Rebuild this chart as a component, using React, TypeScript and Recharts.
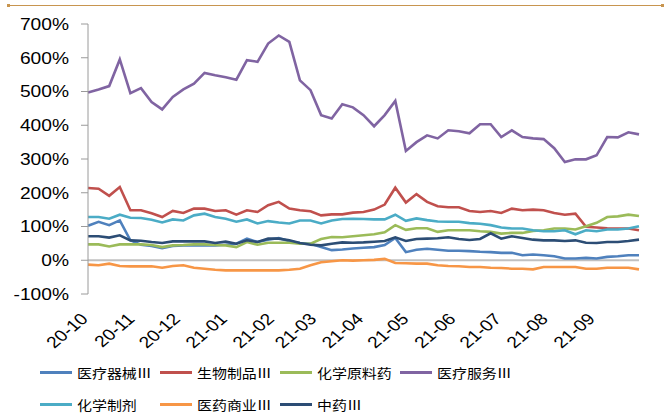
import { LineChart, Line, XAxis, YAxis, ReferenceLine } from "recharts"

// weekly observation dates
const weeks = [
  "2020-10-09", "2020-10-16", "2020-10-23", "2020-10-30", "2020-11-06", "2020-11-13", "2020-11-20", "2020-11-27",
  "2020-12-04", "2020-12-11", "2020-12-18", "2020-12-25", "2021-01-01", "2021-01-08", "2021-01-15", "2021-01-22",
  "2021-01-29", "2021-02-05", "2021-02-12", "2021-02-19", "2021-02-26", "2021-03-05", "2021-03-12", "2021-03-19",
  "2021-03-26", "2021-04-02", "2021-04-09", "2021-04-16", "2021-04-23", "2021-04-30", "2021-05-07", "2021-05-14",
  "2021-05-21", "2021-05-28", "2021-06-04", "2021-06-11", "2021-06-18", "2021-06-25", "2021-07-02", "2021-07-09",
  "2021-07-16", "2021-07-23", "2021-07-30", "2021-08-06", "2021-08-13", "2021-08-20", "2021-08-27", "2021-09-03",
  "2021-09-10", "2021-09-17", "2021-09-24", "2021-10-01", "2021-10-08",
]

const monthTicks = [
  "2020-10-09", "2020-11-09", "2020-12-09", "2021-01-09", "2021-02-09", "2021-03-09",
  "2021-04-09", "2021-05-09", "2021-06-09", "2021-07-09", "2021-08-09", "2021-09-09",
]

const yTicks = [-100, 0, 100, 200, 300, 400, 500, 600, 700]

// values in %
const medDevice = [102, 114, 104, 118, 59, 46, 42, 36, 42, 44, 44, 44, 44, 46, 49, 64, 54, 61, 66, 56, 51, 49, 39, 30, 32, 35, 37, 39, 45, 66, 24, 31, 34, 31, 28, 28, 27, 25, 24, 22, 22, 15, 17, 15, 12, 5, 5, 7, 5, 10, 12, 15, 15]
const bioProducts = [214, 212, 191, 217, 148, 148, 139, 128, 146, 140, 153, 153, 146, 148, 135, 148, 143, 163, 173, 153, 148, 145, 133, 136, 136, 141, 143, 150, 165, 215, 171, 196, 173, 160, 157, 157, 146, 143, 146, 140, 153, 148, 150, 148, 140, 135, 138, 99, 97, 95, 94, 94, 89]
const chemApi = [47, 47, 41, 47, 47, 47, 45, 39, 44, 45, 47, 47, 45, 44, 39, 54, 46, 52, 52, 52, 49, 49, 63, 69, 68, 71, 74, 77, 83, 104, 90, 95, 95, 84, 89, 89, 89, 86, 84, 79, 81, 81, 87, 89, 94, 94, 91, 101, 111, 128, 130, 135, 131]
const medService = [497, 506, 516, 595, 495, 510, 469, 447, 484, 506, 523, 555, 548, 542, 535, 593, 588, 642, 666, 647, 533, 504, 430, 420, 462, 453, 430, 397, 430, 472, 324, 350, 370, 361, 385, 382, 376, 403, 403, 365, 385, 365, 361, 359, 332, 291, 299, 299, 311, 365, 364, 379, 373]
const chemPrep = [128, 128, 123, 135, 126, 125, 120, 112, 121, 118, 133, 138, 128, 123, 114, 121, 109, 116, 112, 109, 118, 118, 109, 118, 122, 123, 122, 121, 121, 135, 117, 124, 119, 115, 114, 114, 110, 108, 104, 97, 94, 94, 89, 86, 86, 89, 77, 89, 86, 91, 91, 94, 101]
const pharmaCommerce = [-13, -15, -10, -17, -18, -18, -18, -22, -17, -15, -22, -25, -28, -30, -30, -30, -30, -30, -30, -28, -25, -15, -6, -3, 0, -1, 0, 1, 4, -8, -9, -10, -10, -15, -17, -18, -20, -20, -22, -23, -25, -25, -27, -20, -20, -20, -20, -25, -25, -22, -22, -22, -27]
const tcm = [71, 71, 67, 74, 59, 58, 54, 51, 56, 56, 56, 56, 51, 55, 49, 59, 54, 64, 64, 59, 51, 46, 44, 49, 53, 52, 53, 55, 57, 68, 57, 63, 64, 65, 68, 63, 60, 63, 80, 64, 71, 66, 61, 59, 59, 57, 59, 52, 51, 54, 54, 57, 61]

const seriesNames = ["医疗器械Ⅲ", "生物制品Ⅲ", "化学原料药", "医疗服务Ⅲ", "化学制剂", "医药商业Ⅲ", "中药Ⅲ"]
const seriesValues = [medDevice, bioProducts, chemApi, medService, chemPrep, pharmaCommerce, tcm]
const colors = ["#4F81BD", "#C0504D", "#9BBB59", "#8064A2", "#4BACC6", "#F79646", "#2C4D75"]

const DAY = 86400000
const dayOf = (d: string) => Math.round((Date.parse(d) - Date.parse(weeks[0])) / DAY)

const data = weeks.map((d, i) => {
  const row: Record<string, number> = { t: dayOf(d) }
  seriesValues.forEach((vals, k) => {
    row["s" + k] = vals[i]
  })
  return row
})

const xTicks = monthTicks.map(dayOf)
const xLabel = (t: number) => {
  const i = xTicks.indexOf(t)
  const d = monthTicks[i] || ""
  return d.slice(2, 7)
}

const FONT = "'Liberation Sans', Arial, sans-serif"
const STRETCH = 1.2

const YTick = (props: any) => {
  const { x, y, payload } = props
  return (
    <text
      transform={`translate(${x},${y}) scale(${STRETCH},1)`}
      textAnchor="end"
      dy="0.36em"
      fontSize={16}
      fontFamily={FONT}
      fill="#000"
    >
      {payload.value}%
    </text>
  )
}

const XTick = (props: any) => {
  const { x, y, payload } = props
  return (
    <text
      transform={`translate(${x + 1},${y + 26}) scale(${STRETCH},1) rotate(-45)`}
      textAnchor="end"
      fontSize={16}
      fontFamily={FONT}
      fill="#000"
    >
      {xLabel(payload.value)}
    </text>
  )
}

const CustomLegend = () => {
  return (
    <div
      style={{
        position: "absolute",
        left: 40,
        top: 362,
        width: 620,
        display: "grid",
        gridTemplateColumns: "120px 120px 120px 140px",
        rowGap: 12,
      }}
    >
      {seriesNames.map((name, i) => (
        <div key={i} style={{ display: "flex", alignItems: "center", height: 20 }}>
          <div style={{ width: 32, height: 3, background: colors[i], marginRight: 5 }} />
          <span
            style={{
              display: "inline-block",
              fontFamily: "'Noto Sans CJK SC', sans-serif",
              fontSize: 13,
              color: "#000",
              transform: "scaleX(1.15)",
              transformOrigin: "left center",
              whiteSpace: "nowrap",
            }}
          >
            {name}
          </span>
        </div>
      ))}
    </div>
  )
}

export default function App() {
  return (
    <div style={{ position: "absolute", left: 0, top: 0, width: 666, height: 416, background: "#fff", overflow: "hidden" }}>
      <div style={{ position: "absolute", left: 7, top: 5, width: 656, height: 1, background: "#C8954F" }} />
      <div style={{ position: "absolute", left: 7, top: 4, width: 3, height: 3, background: "#C8954F" }} />
      <div style={{ position: "absolute", left: 661, top: 4, width: 3, height: 3, background: "#C8954F" }} />
      <div style={{ position: "absolute", left: 0, top: 0 }}>
        <LineChart width={666} height={360} data={data} margin={{ top: 24, right: 27, bottom: 20, left: 0 }}>
          <XAxis
            dataKey="t"
            type="number"
            domain={[0, 364]}
            ticks={xTicks}
            interval={0}
            axisLine={false}
            tickLine={false}
            tickSize={0}
            tickMargin={0}
            height={46}
            tick={<XTick />}
          />
          <YAxis
            type="number"
            domain={[-100, 700]}
            ticks={yTicks}
            interval={0}
            width={88}
            axisLine={{ stroke: "#9A9A9A", strokeWidth: 1 }}
            tickLine={{ stroke: "#9A9A9A", strokeWidth: 1 }}
            tickSize={7}
            tickMargin={12}
            tick={<YTick />}
          />
          <ReferenceLine y={0} stroke="#C0C0C0" strokeWidth={2} />
          {seriesNames.map((name, k) => (
            <Line
              key={name}
              name={name}
              dataKey={"s" + k}
              type="linear"
              stroke={colors[k]}
              strokeWidth={2.6}
              dot={false}
              activeDot={false}
              isAnimationActive={false}
            />
          ))}
        </LineChart>
      </div>
      <CustomLegend />
    </div>
  )
}
